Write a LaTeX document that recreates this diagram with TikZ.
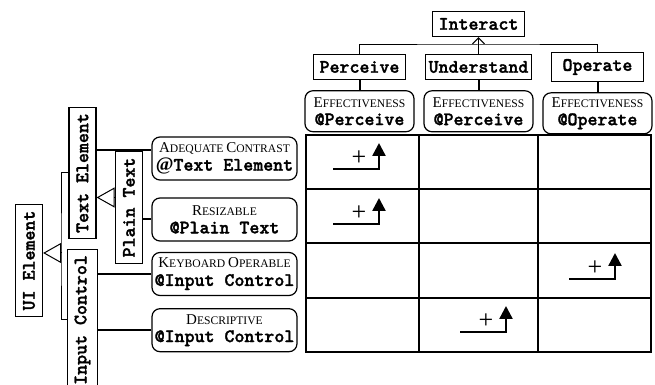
\documentclass[tikz,border=0pt]{standalone}
\usepackage{fontspec}
\setmainfont{Liberation Serif}
\newfontfamily\clsfont{lmmonolt10-bold.otf}[FakeBold=1.6]
\usetikzlibrary{arrows.meta,positioning}

% faked small caps for the property names
\newcommand\capsize{\fontsize{7.5}{9}\selectfont}
\newcommand\smsize{\fontsize{5.8}{9}\selectfont}
\newcommand\smcap[1]{{\normalfont #1}}

\tikzset{
  % class box, mono label
  cls/.style = {
    draw = black,
    line width = 0.6pt,
    rectangle,
    inner xsep = 1.75pt,
    minimum width = 46pt,
    minimum height = 10.5pt,
    font = \clsfont\fontsize{9.5}{10}\selectfont
  },
  % class box standing on its side
  vcls/.style = {
    cls,
    rotate = 90,
    inner xsep = 3pt,
    minimum width = 0pt,
    minimum height = 13.5pt
  },
  % property box
  prop/.style = {
    draw = black,
    line width = 0.6pt,
    rounded corners = 4pt,
    align = center,
    inner sep = 1pt,
    minimum width = 72.5pt,
    minimum height = 21.5pt,
    font = \clsfont\fontsize{9.5}{9}\selectfont
  },
  % effectiveness box
  eff/.style = {
    prop,
    minimum width = 54.5pt,
    minimum height = 20.5pt
  },
  % thick connector
  link/.style = {
    draw = black,
    line width = 1pt
  },
  % thin tree line
  tree/.style = {
    draw = black,
    line width = 0.5pt
  },
  % generalisation arrow
  isa/.style = {
    tree,
    -{Triangle[open, length=9pt, width=10pt]}
  },
  % table rule
  rule/.style = {
    draw = black,
    line width = 1.1pt
  },
  % bent arrow in a cell
  gain/.style = {
    draw = black,
    line width = 1.2pt,
    -{Triangle[length=6.5pt, width=6.5pt]}
  },
  plus/.style = {
    inner sep = 0,
    font = \fontsize{13}{13}\selectfont
  }
}

\begin{document}
\begin{tikzpicture}[x=0.5pt, y=-0.5pt]
    \useasboundingbox (0,0) rectangle (655,385);

    % top tree
    \node[cls] (interact) at (478.5,24) {Interact};
    \node[cls] (perceive) at (359.5,67) {Perceive};
    \node[cls] (understand) at (478.5,67) {Understand};
    \node[cls] (operate) at (597.5,67) {Operate};

    \node[eff] (eff-perceive) [below=5pt of perceive]
      {\smcap{\capsize E\smsize FFECTIVENESS}\\@Perceive};
    \node[eff] (eff-understand) [below=5pt of understand]
      {\smcap{\capsize E\smsize FFECTIVENESS}\\@Perceive};
    \node[eff] (eff-operate) [below=5pt of operate]
      {\smcap{\capsize E\smsize FFECTIVENESS}\\@Operate};

    \coordinate (top-bus) at (478.5,45);

    \draw[tree] (perceive.north) |- (top-bus) -| (operate.north);
    \draw[tree, -{Straight Barb[length=3pt, width=6pt]}]
      (understand.north) -- (interact.south);

    \draw[link] (perceive) -- (eff-perceive);
    \draw[link] (understand) -- (eff-understand);
    \draw[link] (operate) -- (eff-operate);

    % left tree
    \node[vcls] (uiel) at (29,260.5) {UI Element};
    \node[vcls] (textel) at (82.5,173) {Text Element};
    \node[vcls] (inputctl) at (82.5,320) {Input Control};
    \node[vcls] (plain) at (129,207.5) {Plain Text};

    \node[prop] (contrast) at (224.5,158.5)
      {\smcap{\capsize A\smsize DEQUATE \capsize C\smsize ONTRAST}\\{\rmfamily\bfseries @}Text Element};
    \node[prop] (resize) at (224.5,219.5)
      {\smcap{\capsize R\smsize ESIZABLE}\\@Plain Text};
    \node[prop] (keyboard) at (224.5,274)
      {\smcap{\capsize K\smsize EYBOARD \capsize O\smsize PERABLE}\\@Input Control};
    \node[prop] (descr) [below=6pt of keyboard]
      {\smcap{\capsize D\smsize ESCRIPTIVE}\\@Input Control};

    \coordinate (bus) at (61,253);
    \draw[tree] (textel.north) -| (bus) |- (inputctl.north);
    \draw[isa] (bus) -- (bus -| uiel.south);

    \coordinate (plain-out) at ([yshift=5pt]plain.north);
    \draw[isa] (plain-out) -- (plain-out -| textel.south);

    \coordinate (contrast-in) at ([yshift=4.25pt]contrast.west);
    \draw[link] (contrast-in -| textel.south) -- (contrast-in);
    \draw[link] (plain.south |- resize.west) -- (resize.west);
    \draw[link] (inputctl.south |- keyboard.west) -- (keyboard.west);
    \draw[link] (inputctl.south |- descr.west) -- (descr.west);

    % table
    \draw[rule] (306,135) rectangle (651,352);
    \draw[rule] (419,135) -- (419,352);
    \draw[rule] (538,135) -- (538,352);
    \draw[rule] (306,189) -- (651,189);
    \draw[rule] (306,243) -- (651,243);
    \draw[rule] (306,298) -- (651,298);

    % marks in the cells
    \coordinate (r1-start) at (333,169);
    \coordinate (r1-turn) at (379,169);
    \draw[gain] (r1-start) -- (r1-turn) -- ++(0,-26);
    \node[plus] (r1-plus) at (359,158) {+};

    \coordinate (r2-start) at (333,224);
    \coordinate (r2-turn) at (379,224);
    \draw[gain] (r2-start) -- (r2-turn) -- ++(0,-26);
    \node[plus] (r2-plus) at (359,213) {+};

    \coordinate (r3-start) at (569,279);
    \coordinate (r3-turn) at (615,279);
    \draw[gain] (r3-start) -- (r3-turn) -- ++(0,-26);
    \node[plus] (r3-plus) at (595,268) {+};

    \coordinate (r4-start) at (460,332);
    \coordinate (r4-turn) at (506,332);
    \draw[gain] (r4-start) -- (r4-turn) -- ++(0,-26);
    \node[plus] (r4-plus) at (486,321) {+};
\end{tikzpicture}
\end{document}
